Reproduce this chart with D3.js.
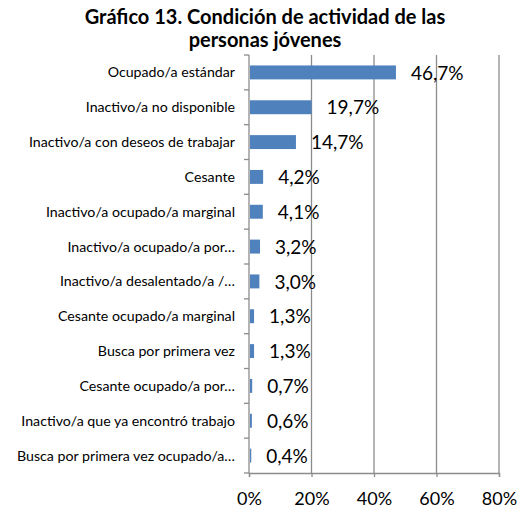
<!DOCTYPE html>
<html>
<head>
<meta charset="utf-8">
<script src="https://cdn.jsdelivr.net/npm/d3@7"></script>
<style>
  body { margin: 0; background: #fff; }
  text { font-family: Lato, "Open Sans", sans-serif; }
</style>
</head>
<body>
<div id="chart"></div>
<script>
// data
const categories = [
  'Ocupado/a estándar',
  'Inactivo/a no disponible',
  'Inactivo/a con deseos de trabajar',
  'Cesante',
  'Inactivo/a ocupado/a marginal',
  'Inactivo/a ocupado/a por…',
  'Inactivo/a desalentado/a /…',
  'Cesante ocupado/a marginal',
  'Busca por primera vez',
  'Cesante ocupado/a por…',
  'Inactivo/a que ya encontró trabajo',
  'Busca por primera vez ocupado/a…'
];
const values = [46.7, 19.7, 14.7, 4.2, 4.1, 3.2, 3.0, 1.3, 1.3, 0.7, 0.6, 0.4];
const valueLabels = ['46,7%', '19,7%', '14,7%', '4,2%', '4,1%', '3,2%', '3,0%', '1,3%', '1,3%', '0,7%', '0,6%', '0,4%'];
const xTicks = [0, 20, 40, 60, 80];
const titleLines = ['Gráfico 13. Condición de actividad de las', 'personas jóvenes'];

const W = 520, H = 513;
const margin = { top: 55, right: 21, bottom: 40, left: 249 };
const width = W - margin.left - margin.right;
const height = H - margin.top - margin.bottom;

const svg = d3.select('#chart').append('svg')
  .attr('width', W)
  .attr('height', H);

// title
svg.append('g').selectAll('text')
  .data(titleLines)
  .enter().append('text')
  .attr('x', 265)
  .attr('y', (d, i) => 24 + i * 23)
  .attr('text-anchor', 'middle')
  .attr('font-size', 20)
  .attr('font-weight', 'bold')
  .attr('fill', '#000')
  .text(d => d);

const g = svg.append('g')
  .attr('transform', 'translate(' + margin.left + ',' + margin.top + ')');

const x = d3.scaleLinear().domain([0, 80]).range([0, width]);
const y = d3.scaleBand().domain(categories).range([0, height]).paddingInner(0.6).paddingOuter(0.3);

const gridColor = '#8c8c8c';

// gridlines
g.selectAll('.grid')
  .data(xTicks.slice(1))
  .enter().append('line')
  .attr('x1', d => x(d)).attr('x2', d => x(d))
  .attr('y1', 0).attr('y2', height)
  .attr('stroke', gridColor)
  .attr('stroke-width', 1.3);

// bars
g.selectAll('.bar')
  .data(values)
  .enter().append('rect')
  .attr('x', x(0) + 1)
  .attr('y', (d, i) => y(categories[i]))
  .attr('width', d => x(d) - x(0))
  .attr('height', y.bandwidth())
  .attr('fill', '#4f81bd');

// bottom axis
const xAxis = g.append('g')
  .attr('transform', 'translate(0,' + height + ')')
  .call(d3.axisBottom(x).tickValues(xTicks).tickFormat(d => d + '%').tickSize(4).tickPadding(15));
xAxis.select('.domain').attr('stroke', gridColor).attr('stroke-width', 1.3);
xAxis.selectAll('.tick line').attr('stroke', gridColor).attr('stroke-width', 1.3);
xAxis.selectAll('.tick text').attr('font-size', 18).attr('fill', '#000')
  .style('font-family', 'Lato, "Open Sans", sans-serif');

// left axis with boundary ticks
const step = height / categories.length;
const leftAxis = g.append('g');
leftAxis.append('line')
  .attr('x1', 0).attr('x2', 0).attr('y1', 0).attr('y2', height)
  .attr('stroke', gridColor).attr('stroke-width', 1.3);
leftAxis.selectAll('.ltick')
  .data(d3.range(categories.length + 1))
  .enter().append('line')
  .attr('x1', -5).attr('x2', 0)
  .attr('y1', d => d * step).attr('y2', d => d * step)
  .attr('stroke', gridColor).attr('stroke-width', 1.3);

// category labels
g.selectAll('.cat')
  .data(categories)
  .enter().append('text')
  .attr('x', -14)
  .attr('y', d => y(d) + y.bandwidth() / 2)
  .attr('dy', '0.35em')
  .attr('text-anchor', 'end')
  .attr('font-size', 14.2)
  .attr('fill', '#000')
  .text(d => d);

// value labels
g.selectAll('.val')
  .data(values)
  .enter().append('text')
  .attr('x', d => x(d) + 16)
  .attr('y', (d, i) => y(categories[i]) + y.bandwidth() / 2)
  .attr('dy', '0.38em')
  .attr('font-size', 19)
  .attr('fill', '#000')
  .text((d, i) => valueLabels[i]);
</script>
</body>
</html>
